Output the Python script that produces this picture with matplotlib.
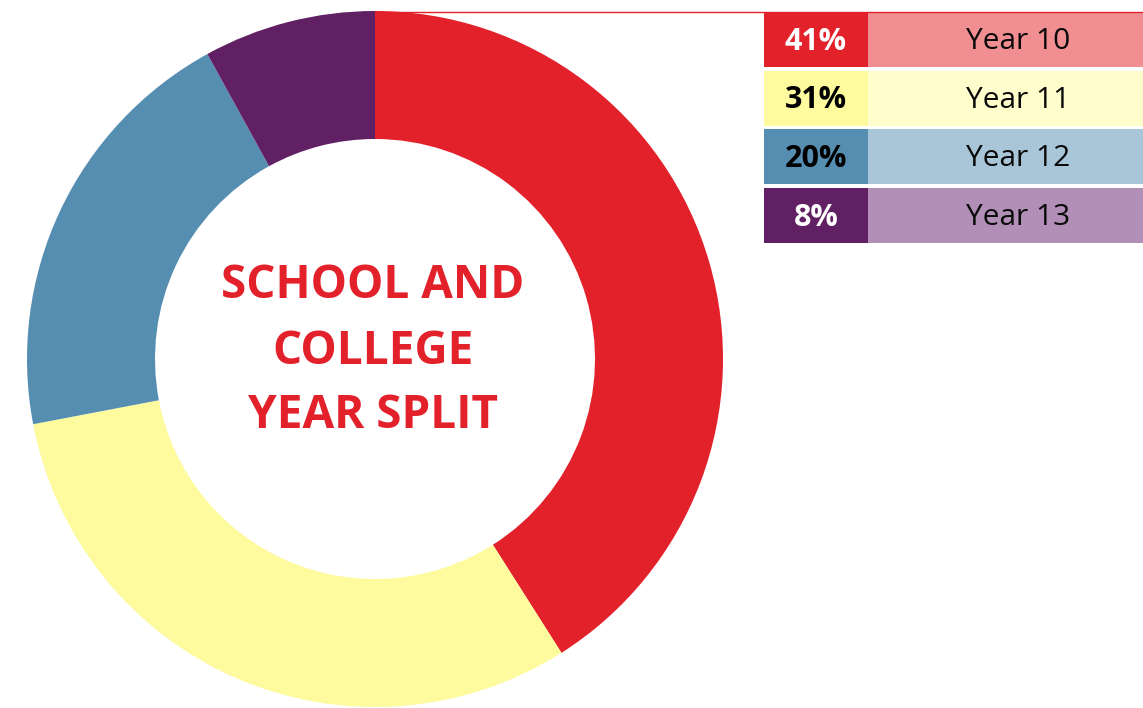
import matplotlib.pyplot as plt
from matplotlib.patches import Rectangle

plt.rcParams["font.family"] = ["Open Sans", "DejaVu Sans"]

# data
years = ["Year 10", "Year 11", "Year 12", "Year 13"]
shares = [41, 31, 20, 8]
pct_labels = ["41%", "31%", "20%", "8%"]
dark_colors = ["#E3212B", "#FEFA9E", "#568EB2", "#612064"]
light_colors = ["#F08E92", "#FFFDCB", "#A9C6D8", "#B18FB6"]
pct_text_colors = ["white", "black", "black", "white"]

W, H = 1143, 708
fig = plt.figure(figsize=(W / 100, H / 100), dpi=100)
ax = fig.add_axes([0, 0, 1, 1])

# donut, pixel coords with y measured from the bottom
cx, cy = 375, H - 359
ax.pie(shares, colors=dark_colors, startangle=90, counterclock=False,
       center=(cx, cy), radius=348,
       wedgeprops=dict(width=128, linewidth=0))

ax.text(cx - 2, cy + 8, "SCHOOL AND\nCOLLEGE\nYEAR SPLIT", ha="center", va="center",
        color="#E3212B", fontsize=33, fontweight="bold", linespacing=1.5)

# connector line from top of donut to the table
ax.plot([cx, W], [H - 11.5, H - 11.5], color="#E3212B", lw=1.0, solid_capstyle="butt")

# legend table
row_h = 55
sw_x0, sw_x1 = 764, 868
for i, (yr, pct) in enumerate(zip(years, pct_labels)):
    top = 12 + i * 58.7
    y0 = H - top - row_h
    ax.add_patch(Rectangle((sw_x0, y0), sw_x1 - sw_x0, row_h, color=dark_colors[i], lw=0))
    ax.add_patch(Rectangle((sw_x1, y0), W - sw_x1, row_h, color=light_colors[i], lw=0))
    ax.text((sw_x0 + sw_x1) / 2, y0 + row_h / 2 - 2, pct, ha="center", va="center",
            fontsize=22, fontweight="bold", color=pct_text_colors[i])
    ax.text(1018, y0 + row_h / 2 - 2, yr, ha="center", va="center",
            fontsize=21.5, color="#0a0a0a")

ax.set_xlim(0, W)
ax.set_ylim(0, H)
ax.set_aspect("equal")
ax.axis("off")

fig.savefig("out.png", dpi=100)
